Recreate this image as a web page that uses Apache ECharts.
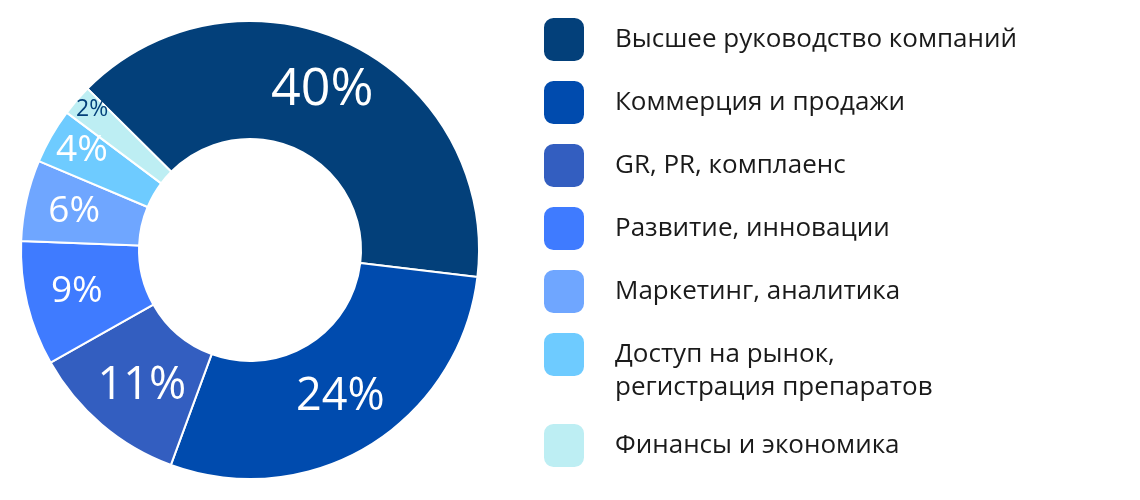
<!DOCTYPE html>
<html>
<head>
<meta charset="utf-8">
<script src="https://cdn.jsdelivr.net/npm/echarts@6/dist/echarts.min.js"></script>
<style>
  html, body { margin: 0; background: #fff; }
  #chart { width: 1140px; height: 500px; }
</style>
</head>
<body>
<div id="chart"></div>
<script>
// категории и значения
const categories = [
  'Высшее руководство компаний',
  'Коммерция и продажи',
  'GR, PR, комплаенс',
  'Развитие, инновации',
  'Маркетинг, аналитика',
  'Доступ на рынок,\nрегистрация препаратов',
  'Финансы и экономика'
];
// подписи, как они напечатаны на диаграмме
const printedShares = ['40%', '24%', '11%', '9%', '6%', '4%', '2%'];
// доли по величине дуг на картинке (24% нарисовано шире, чем подписано)
const arcShares = [39.4, 28.7, 11.2, 8.8, 5.7, 3.9, 2.2];

const colors = ['#03407a', '#004bae', '#335ec0', '#3f7bff', '#6fa6ff', '#6ecbff', '#bdeef3'];
const labelColors = ['#fff', '#fff', '#fff', '#fff', '#fff', '#fff', '#03407a'];
const labelSizes = [52, 45, 45, 37, 37, 37, 23];
const labelOffsets = [[-3, -4], [0, 0], [4, 4], [-5, 1], [-7, -1], [-18, -13], [-27, -27]];

const font = '"Open Sans", sans-serif';

const chart = echarts.init(document.getElementById('chart'));

const legendBase = {
  orient: 'vertical',
  left: 542,
  padding: 0,
  itemWidth: 42,
  itemHeight: 45,
  itemGap: 16,
  icon: 'roundRect',
  selectedMode: false,
  // у двухстрочного пункта первая строка должна стоять на уровне квадрата
  formatter: name => (name.indexOf('\n') > -1 ? '\n' + name : name),
  textStyle: {
    fontFamily: font,
    fontSize: 26,
    lineHeight: 33,
    color: '#1a1a1a',
    padding: [0, 0, 0, 25]
  }
};

chart.setOption({
  animation: false,
  color: colors,
  legend: [
    Object.assign({}, legendBase, { top: 16, data: categories.slice(0, 5) }),
    Object.assign({}, legendBase, { top: 305, data: [categories[5]] }),
    Object.assign({}, legendBase, { top: 422, data: [categories[6]] })
  ],
  series: [{
    type: 'pie',
    center: [250, 250],
    radius: [111, 229],
    startAngle: 135.2,
    clockwise: true,
    avoidLabelOverlap: false,
    emphasis: { disabled: true },
    itemStyle: { borderColor: '#fff', borderWidth: 2 },
    labelLine: { show: false },
    label: {
      show: true,
      position: 'inside',
      fontFamily: font,
      fontWeight: 500
    },
    data: categories.map((name, i) => ({
      name: name,
      value: arcShares[i],
      label: {
        formatter: printedShares[i],
        color: labelColors[i],
        fontSize: labelSizes[i],
        offset: labelOffsets[i]
      }
    }))
  }]
});

window.addEventListener('resize', () => chart.resize());
</script>
</body>
</html>
